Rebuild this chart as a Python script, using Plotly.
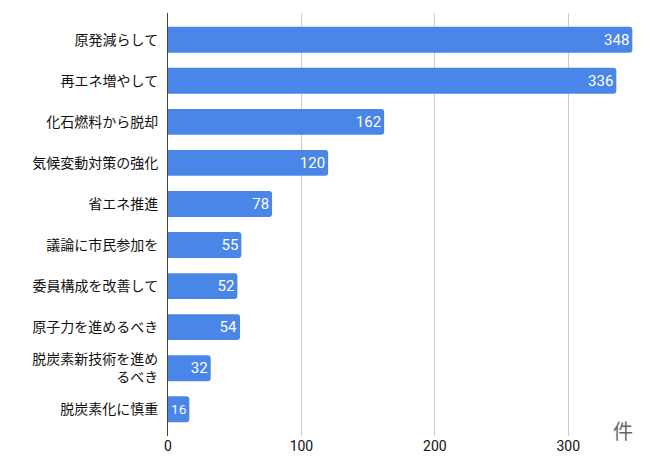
import plotly.graph_objects as go

categories = [
    "原発減らして",
    "再エネ増やして",
    "化石燃料から脱却",
    "気候変動対策の強化",
    "省エネ推進",
    "議論に市民参加を",
    "委員構成を改善して",
    "原子力を進めるべき",
    "脱炭素新技術を進め<br>るべき",
    "脱炭素化に慎重",
]
counts = [348, 336, 162, 120, 78, 55, 52, 54, 32, 16]
x_ticks = [0, 100, 200, 300]
unit_label = "件"

font_family = "Noto Sans CJK JP, Roboto, sans-serif"

fig = go.Figure()
fig.add_trace(go.Bar(
    x=counts,
    y=categories,
    orientation="h",
    marker=dict(color="#4a86e8", line=dict(width=0)),
    text=[str(v) for v in counts],
    textposition="inside",
    insidetextanchor="end",
    textfont=dict(color="white", size=15, family="Roboto, sans-serif"),
    cliponaxis=False,
))

# page has an 8px body margin, so the figure is a bit smaller than the window
fig.update_layout(
    width=642,
    height=468,
    margin=dict(l=160, r=15, t=5, b=40),
    paper_bgcolor="white",
    plot_bgcolor="white",
    showlegend=False,
    bargap=0.37,
    barcornerradius=3,
    font=dict(family=font_family, size=14, color="#111111"),
    xaxis=dict(
        range=[0, 350],
        tickvals=x_ticks,
        automargin=False,
        showgrid=True,
        gridcolor="#cccccc",
        gridwidth=1,
        zeroline=False,
        showline=False,
        ticks="",
        tickfont=dict(family="Roboto, sans-serif", size=14, color="#111111"),
    ),
    yaxis=dict(
        autorange=False,
        range=[9.65, -0.65],
        automargin=False,
        showgrid=False,
        showline=True,
        linecolor="#444444",
        linewidth=1,
        ticks="",
        ticklabelstandoff=6,
        tickfont=dict(size=14, color="#111111"),
    ),
)

fig.add_annotation(
    text=unit_label,
    xref="paper", yref="paper",
    x=1.0, y=-0.025,
    xanchor="right", yanchor="bottom",
    showarrow=False,
    font=dict(size=20, color="#666666"),
)

fig.write_html("out.html")
